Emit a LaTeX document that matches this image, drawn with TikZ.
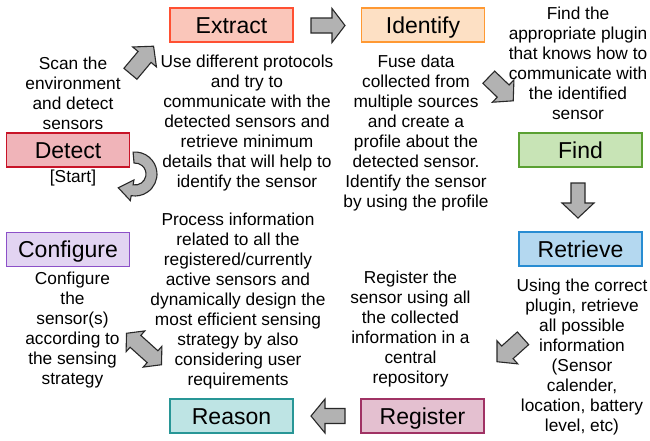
\documentclass[tikz,border=0pt]{standalone}
\usepackage{fontspec}
\setmainfont{Liberation Sans}
\begin{document}
\begin{tikzpicture}[x=1pt,y=1pt,
  box/.style={draw,line width=1.6pt,minimum width=123pt,minimum height=34pt,inner sep=0pt,
    text height=16.5pt,text depth=0pt,font=\fontsize{23}{26}\selectfont},
  desc/.style={align=center,inner sep=0pt,font=\fontsize{17.3}{20}\selectfont},
  arrowstyle/.style={draw={rgb,255:red,40;green,40;blue,40},fill={rgb,255:red,178;green,178;blue,178},line width=1.1pt,line join=miter}]
\definecolor{exF}{RGB}{250,198,186}\definecolor{exD}{RGB}{255,80,50}
\definecolor{idF}{RGB}{253,224,196}\definecolor{idD}{RGB}{255,153,51}
\definecolor{fiF}{RGB}{200,228,182}\definecolor{fiD}{RGB}{90,160,50}
\definecolor{reF}{RGB}{180,216,240}\definecolor{reD}{RGB}{40,140,210}
\definecolor{rgF}{RGB}{228,192,208}\definecolor{rgD}{RGB}{160,50,100}
\definecolor{rsF}{RGB}{190,228,228}\definecolor{rsD}{RGB}{40,150,150}
\definecolor{coF}{RGB}{226,212,242}\definecolor{coD}{RGB}{140,80,200}
\definecolor{deF}{RGB}{240,180,185}\definecolor{deD}{RGB}{200,20,40}
\useasboundingbox[fill=white] (0,0) rectangle (650,-440);
% boxes
\node[box,fill=exF,draw=exD] (extract) at (231.5,-25) {Extract};
\node[box,fill=idF,draw=idD] (identify) at (423,-25) {Identify};
\node[box,fill=fiF,draw=fiD] (find) at (580.5,-150) {Find};
\node[box,fill=reF,draw=reD] (retrieve) at (580.5,-249) {Retrieve};
\node[box,fill=rgF,draw=rgD] (register) at (422.5,-416) {Register};
\node[box,fill=rsF,draw=rsD] (reason) at (231.5,-416) {Reason};
\node[box,fill=coF,draw=coD] (configure) at (68,-249.5) {Configure};
\node[box,fill=deF,draw=deD] (detect) at (68,-150) {Detect};
% descriptions
\node[desc] (dscan) at (73,-93) {Scan the\\environment\\and detect\\sensors};
\node[desc] (dstart) at (73,-178) {[Start]};
\node[desc] (dextract) at (247,-123) {Use different protocols\\and try to\\communicate with the\\detected sensors and\\retrieve minimum\\details that will help to\\identify the sensor};
\node[desc] (didentify) at (416,-133) {Fuse data\\collected from\\multiple sources\\and create a\\profile about the\\detected sensor.\\Identify the sensor\\by using the profile};
\node[desc] (dfind) at (578,-63) {Find the\\appropriate plugin\\that knows how to\\communicate with\\the identified\\sensor};
\node[desc] (dretrieve) at (582,-357) {Using the correct\\plugin, retrieve\\all possible\\information\\(Sensor\\calender,\\location, battery\\level, etc)};
\node[desc] (dregister) at (410.5,-329) {Register the\\sensor using all\\the collected\\information in a\\central\\repository};
\node[desc] (dreason) at (238,-301) {Process information\\related to all the\\registered/currently\\active sensors and\\dynamically design the\\most efficient sensing\\strategy by also\\considering user\\requirements};
\node[desc] (dconfigure) at (72.5,-330) {Configure\\the\\sensor(s)\\according to\\the sensing\\strategy};
% block arrows: center x, center y (image), angle, length, shaft, head, head length
\newcommand\barrow[7]{\begin{scope}[shift={(#1,-#2)},rotate=#3]
\path[arrowstyle] (-#4/2,-#5/2) -- ({#4/2-#7},-#5/2) -- ({#4/2-#7},-#6/2) -- (#4/2,0) -- ({#4/2-#7},#6/2) -- ({#4/2-#7},#5/2) -- (-#4/2,#5/2) -- cycle;
\end{scope}}
\barrow{328}{25.5}{0}{34}{15}{34}{13}
\barrow{578}{200.5}{-90}{35}{14}{32}{15}
\barrow{328}{416}{180}{34}{15}{34}{14}
\barrow{501}{89}{-44}{34}{17}{31}{14}
\barrow{510}{350}{-138}{35}{17}{31}{14}
\barrow{142}{60}{50}{36}{17}{31}{14}
% double arrow Reason <-> Configure
\begin{scope}[shift={(144,-349)},rotate=-42]
\path[arrowstyle] (-23.5,0) -- (-11.5,14) -- (-11.5,8) -- (11.5,8) -- (11.5,14) -- (23.5,0) -- (11.5,-14) -- (11.5,-8) -- (-11.5,-8) -- (-11.5,-14) -- cycle;
\end{scope}
% curved start arrow
\begin{scope}[shift={(135,-174)}]
\path[arrowstyle] (95:22) arc[start angle=95,end angle=-100,radius=22] -- (-100:27) -- (-16.7,-13.8) -- (-100:6) -- (-100:11) arc[start angle=-100,end angle=95,radius=11] -- cycle;
\end{scope}
\end{tikzpicture}
\end{document}
